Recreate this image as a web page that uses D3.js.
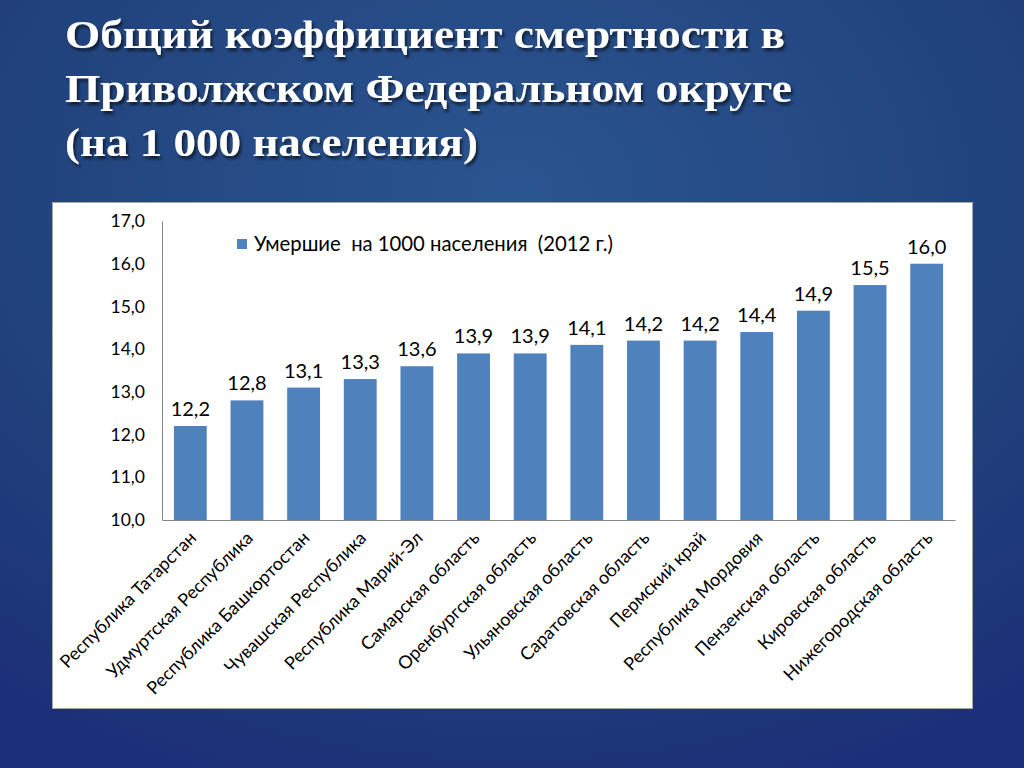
<!DOCTYPE html>
<html>
<head>
<meta charset="utf-8">
<script src="https://cdn.jsdelivr.net/npm/d3@7"></script>
<style>
  html, body { margin: 0; padding: 0; }
  body { width: 1024px; height: 768px; overflow: hidden; }
</style>
</head>
<body>
<svg id="chart" width="1024" height="768"></svg>
<script>
// Data
var regions = [
    'Республика Татарстан',
    'Удмуртская Республика',
    'Республика Башкортостан',
    'Чувашская Республика',
    'Республика Марий-Эл',
    'Самарская область',
    'Оренбургская область',
    'Ульяновская область',
    'Саратовская область',
    'Пермский край',
    'Республика Мордовия',
    'Пензенская область',
    'Кировская область',
    'Нижегородская область',
];
var deaths = [12.2, 12.8, 13.1, 13.3, 13.6, 13.9, 13.9, 14.1, 14.2, 14.2, 14.4, 14.9, 15.5, 16.0];
var yTicks = [10, 11, 12, 13, 14, 15, 16, 17];
var titleLines = [
    'Общий коэффициент смертности в',
    'Приволжском Федеральном округе',
    '(на 1 000 населения)',
];
var legendLabel = 'Умершие  на 1000 населения  (2012 г.)';

var svg = d3.select('#chart');
var fmt = (v) => d3.format('.1f')(v).replace('.', ',');
var font = 'Lato, Carlito, Calibri, sans-serif';

// background
var defs = svg.append('defs');
var bg = defs.append('radialGradient').attr('id', 'bg')
    .attr('cx', '50%').attr('cy', '25%').attr('r', '85%');
bg.append('stop').attr('offset', '0%').attr('stop-color', '#2b5590');
bg.append('stop').attr('offset', '60%').attr('stop-color', '#21427c');
bg.append('stop').attr('offset', '100%').attr('stop-color', '#1b2e78');
var sh = defs.append('filter').attr('id', 'shadow')
    .attr('x', '-5%').attr('y', '-20%').attr('width', '110%').attr('height', '150%');
sh.append('feDropShadow').attr('dx', 2).attr('dy', 3).attr('stdDeviation', 1.5)
    .attr('flood-color', '#000').attr('flood-opacity', 0.6);

svg.append('rect').attr('width', 1024).attr('height', 768).attr('fill', 'url(#bg)');

// title
var titleWidths = [720, 727, 413];
svg.append('g').attr('filter', 'url(#shadow)')
  .selectAll('text').data(titleLines).join('text')
    .attr('x', 65)
    .attr('y', (d, i) => 48 + i * 54)
    .attr('textLength', (d, i) => titleWidths[i])
    .attr('lengthAdjust', 'spacingAndGlyphs')
    .attr('fill', '#fff')
    .style('font-family', '"Liberation Serif", "Times New Roman", serif')
    .style('font-weight', 'bold')
    .style('font-size', '41px')
    .text((d) => d);

// chart panel
svg.append('rect')
    .attr('x', 52.5).attr('y', 202.5).attr('width', 920).attr('height', 506)
    .attr('fill', '#fff').attr('stroke', '#a6a6a6').attr('stroke-width', 1);

var x = d3.scaleBand().domain(regions).range([162, 955])
    .paddingInner(0.42).paddingOuter(0.21);
var y = d3.scaleLinear().domain([10, 17]).range([520, 221]);

// y axis
var yAxis = svg.append('g').attr('transform', 'translate(162,0)')
    .call(d3.axisLeft(y).tickValues(yTicks).tickFormat(fmt).tickSize(0).tickPadding(17));
yAxis.select('.domain').attr('stroke', '#868686');
yAxis.selectAll('text').attr('fill', '#000')
    .style('font-family', font).style('font-size', '17.5px');

// bars
svg.append('g').selectAll('rect').data(deaths).join('rect')
    .attr('x', (d, i) => x(regions[i]))
    .attr('y', (d) => y(d))
    .attr('width', x.bandwidth())
    .attr('height', (d) => y(10) - y(d))
    .attr('fill', '#4f81bd');

// value labels
svg.append('g').selectAll('text').data(deaths).join('text')
    .attr('x', (d, i) => x(regions[i]) + x.bandwidth() / 2)
    .attr('y', (d) => y(d) - 10)
    .attr('text-anchor', 'middle')
    .attr('fill', '#000')
    .style('font-family', font).style('font-size', '20px')
    .text(fmt);

// x axis
var xAxis = svg.append('g').attr('transform', 'translate(0,520)')
    .call(d3.axisBottom(x).tickSize(0).tickSizeOuter(0));
xAxis.select('.domain').attr('stroke', '#868686');
xAxis.selectAll('text')
    .attr('fill', '#000')
    .attr('text-anchor', 'end')
    .attr('dy', 0)
    .attr('transform', 'translate(5,17) rotate(-45)')
    .style('font-family', font).style('font-size', '18px');

// legend
svg.append('rect').attr('x', 237).attr('y', 239).attr('width', 10).attr('height', 10)
    .attr('fill', '#4f81bd');
svg.append('text').attr('x', 254).attr('y', 251)
    .attr('fill', '#000')
    .style('font-family', font).style('font-size', '20.3px')
    .attr('xml:space', 'preserve')
    .text(legendLabel);
</script>
</body>
</html>
